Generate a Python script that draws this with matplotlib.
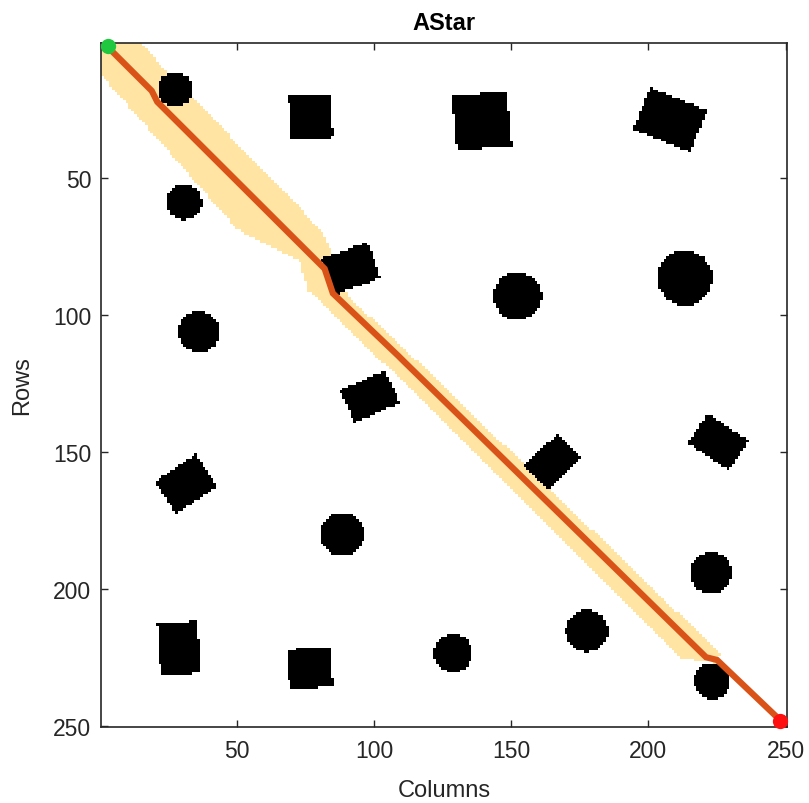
import numpy as np
import matplotlib
matplotlib.use("Agg")
import matplotlib.pyplot as plt
from matplotlib.path import Path

plt.rcParams['font.family'] = ['Liberation Sans', 'DejaVu Sans']

# ---------------- data ----------------
grid_size = 250
# circular obstacles: column, row, radius (grid cells)
circle_cols = [27.5, 30.7, 36.2, 152.3, 213.3, 88.3, 222.8, 177.6, 128.8, 223.2]
circle_rows = [17.5, 58.6, 106.1, 93.0, 86.4, 180.0, 194.2, 215.4, 223.5, 233.7]
circle_rads = [6.5, 6.5, 7.6, 8.8, 10.0, 8.0, 7.7, 7.7, 7.0, 6.6]
# rectangular obstacles: column, row, width, height, angle (deg)
rect_cols = [77.0, 139.3, 207.9, 91.6, 98.5, 165.2, 225.5, 31.5, 28.9, 76.7]
rect_rows = [27.4, 29.0, 28.6, 82.9, 129.7, 153.6, 146.3, 161.7, 221.8, 228.9]
rect_w = [15.5, 20.0, 22.4, 18.0, 18.0, 17.0, 18.0, 18.0, 14.6, 16.0]
rect_h = [16.0, 20.0, 16.5, 14.0, 13.0, 12.6, 13.0, 14.0, 19.0, 14.5]
rect_ang = [-3, -5, 22, -20, -24, -44, 34, -34, -4, -4]

# explored region boundary (column, row)
explored_cols = [0.5, 14.7, 80.3, 85.8, 90.5, 116.0, 226.5, 224.0,
                 219.0, 212.0, 103.0, 76.0, 73.0, 50.1, 0.9, 0.5]
explored_rows = [0.5, 0.5, 68.5, 79.4, 93.0, 117.0, 224.0, 227.0,
                 226.5, 225.0, 117.0, 91.0, 80.5, 68.5, 12.6, 12.6]

# planned path (column, row)
path_cols = [3, 19, 21, 82, 85, 109, 111, 221, 225, 248]
path_rows = [2, 18, 22, 83, 92, 115, 117, 225, 226, 248]
start_col, start_row = 3, 1.6
goal_col, goal_row = 248, 248.3

# ---------------- raster ----------------
cc, rr = np.meshgrid(np.arange(1, grid_size + 1), np.arange(1, grid_size + 1))
occ = np.zeros((grid_size, grid_size), bool)
for c, r, rad in zip(circle_cols, circle_rows, circle_rads):
    occ |= (cc - c) ** 2 + (rr - r) ** 2 <= rad ** 2
for c, r, w, h, a in zip(rect_cols, rect_rows, rect_w, rect_h, rect_ang):
    t = np.deg2rad(a)
    dx, dy = cc - c, rr - r
    u = dx * np.cos(t) + dy * np.sin(t)
    v = -dx * np.sin(t) + dy * np.cos(t)
    occ |= (np.abs(u) <= w / 2) & (np.abs(v) <= h / 2)

poly = Path(np.column_stack([explored_cols, explored_rows]))
explored = poly.contains_points(np.column_stack([cc.ravel(), rr.ravel()])).reshape(cc.shape)

img = np.ones((grid_size, grid_size, 3))
img[explored] = np.array([255, 228, 163]) / 255.0
img[occ] = 0.0

# ---------------- plot ----------------
W, H = 809, 804
fig = plt.figure(figsize=(W / 100, H / 100), dpi=100)
ax = fig.add_axes([101 / W, 1 - 728 / H, 686 / W, 684 / H])
ax.imshow(img, extent=(0.5, grid_size + 0.5, grid_size + 0.5, 0.5),
          interpolation='nearest', aspect='auto')
ax.plot(path_cols, path_rows, color='#D95319', lw=4.5, solid_joinstyle='miter', zorder=3)
ax.plot([start_col], [start_row], 'o', color='#1FC83E', ms=11, mec='none', zorder=4, clip_on=False)
ax.plot([goal_col], [goal_row], 'o', color='#FF1010', ms=11, mec='none', zorder=4, clip_on=False)

ax.set_xlim(0.5, grid_size + 0.5)
ax.set_ylim(grid_size + 0.5, 0.5)
ticks = [50, 100, 150, 200, 250]
ax.set_xticks(ticks)
ax.set_yticks(ticks)
dark = '#262626'
ax.tick_params(direction='in', length=5, width=1.0, colors=dark, labelsize=16.5,
               top=True, right=True)
ax.tick_params(axis='x', pad=9)
ax.tick_params(axis='y', pad=7)
for s in ax.spines.values():
    s.set_color(dark)
    s.set_linewidth(1.2)
ax.set_title('AStar', fontsize=17, fontweight='bold', color='black', pad=10)
ax.set_xlabel('Columns', fontsize=17, color=dark, labelpad=12)
ax.set_ylabel('Rows', fontsize=17, color=dark, labelpad=14)

fig.savefig('out.png', dpi=100)
